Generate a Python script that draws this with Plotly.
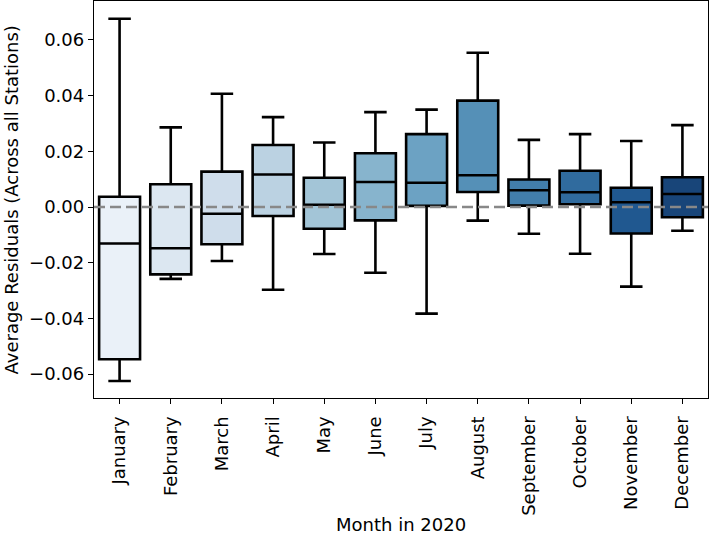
import colorsys
import plotly.graph_objects as go
from plotly.colors import sample_colorscale, unlabel_rgb

months = ["January", "February", "March", "April", "May", "June", "July",
          "August", "September", "October", "November", "December"]
upper_whisker = [0.0676, 0.0286, 0.0407, 0.0323, 0.0232, 0.0341, 0.0350, 0.0554, 0.0241, 0.0262, 0.0237, 0.0294]
q3_values     = [0.0037, 0.0082, 0.0127, 0.0223, 0.0105, 0.0193, 0.0262, 0.0382, 0.0099, 0.0130, 0.0069, 0.0107]
median_values = [-0.0131, -0.0148, -0.0024, 0.0117, 0.0008, 0.0090, 0.0087, 0.0114, 0.0060, 0.0053, 0.0017, 0.0047]
q1_values     = [-0.0547, -0.0242, -0.0134, -0.0032, -0.0078, -0.0048, 0.0004, 0.0054, 0.0005, 0.0010, -0.0095, -0.0037]
lower_whisker = [-0.0625, -0.0258, -0.0194, -0.0297, -0.0169, -0.0236, -0.0383, -0.0049, -0.0096, -0.0168, -0.0286, -0.0085]
y_ticks = [-0.06, -0.04, -0.02, 0.00, 0.02, 0.04, 0.06]
x_title = "Month in 2020"
y_title = "Average Residuals (Across all Stations)"


def desaturate(rgb_str, prop=0.75):
    r, g, b = [c / 255 for c in unlabel_rgb(rgb_str)]
    h, l, s = colorsys.rgb_to_hls(r, g, b)
    r, g, b = colorsys.hls_to_rgb(h, l, s * prop)
    return "rgb(%d,%d,%d)" % (round(r * 255), round(g * 255), round(b * 255))


n = len(months)
palette = [desaturate(c) for c in sample_colorscale("Blues", [(i + 1) / (n + 1) for i in range(n)])]

fig = go.Figure()
for i, m in enumerate(months):
    fig.add_trace(go.Box(
        x=[m],
        q1=[q1_values[i]], median=[median_values[i]], q3=[q3_values[i]],
        lowerfence=[lower_whisker[i]], upperfence=[upper_whisker[i]],
        fillcolor=palette[i],
        line=dict(color="black", width=2.6),
        width=0.8,
        whiskerwidth=0.55,
        boxpoints=False,
        showlegend=False,
        hoverinfo="skip",
    ))

fig.add_shape(type="line", xref="paper", x0=0, x1=1, yref="y", y0=0, y1=0,
              line=dict(color="#888888", width=2.6, dash="11px,5px"), layer="above")

font = dict(family="DejaVu Sans", size=18, color="black")
fig.update_layout(
    width=710, height=536,
    margin=dict(l=94, r=2, t=1, b=138),
    paper_bgcolor="white", plot_bgcolor="white",
    font=font,
    xaxis=dict(
        type="category", categoryorder="array", categoryarray=months,
        range=[-0.5, 11.5], automargin=False,
        tickangle=-90, ticks="outside", ticklen=5, tickwidth=1.3, tickcolor="black",
        ticklabelstandoff=5,
        showline=True, linecolor="black", linewidth=1.3, mirror=True,
        showgrid=False, zeroline=False,
    ),
    yaxis=dict(
        range=[-0.0686, 0.0740], automargin=False,
        tickvals=y_ticks, tickformat=".2f",
        ticks="outside", ticklen=5, tickwidth=1.3, tickcolor="black",
        showline=True, linecolor="black", linewidth=1.3, mirror=True,
        showgrid=False, zeroline=False,
    ),
    annotations=[
        dict(text=x_title, xref="paper", yref="paper", x=0.5, y=-0.3174,
             xanchor="center", yanchor="middle", showarrow=False, font=font, borderpad=0),
        dict(text=y_title, xref="paper", yref="paper", x=-0.1336, y=0.5,
             xanchor="center", yanchor="middle", textangle=-90, showarrow=False, font=font),
    ],
)

fig.write_html("out.html", config={"displayModeBar": False},
               post_script="document.body.style.margin='0';document.body.style.overflow='hidden';")
